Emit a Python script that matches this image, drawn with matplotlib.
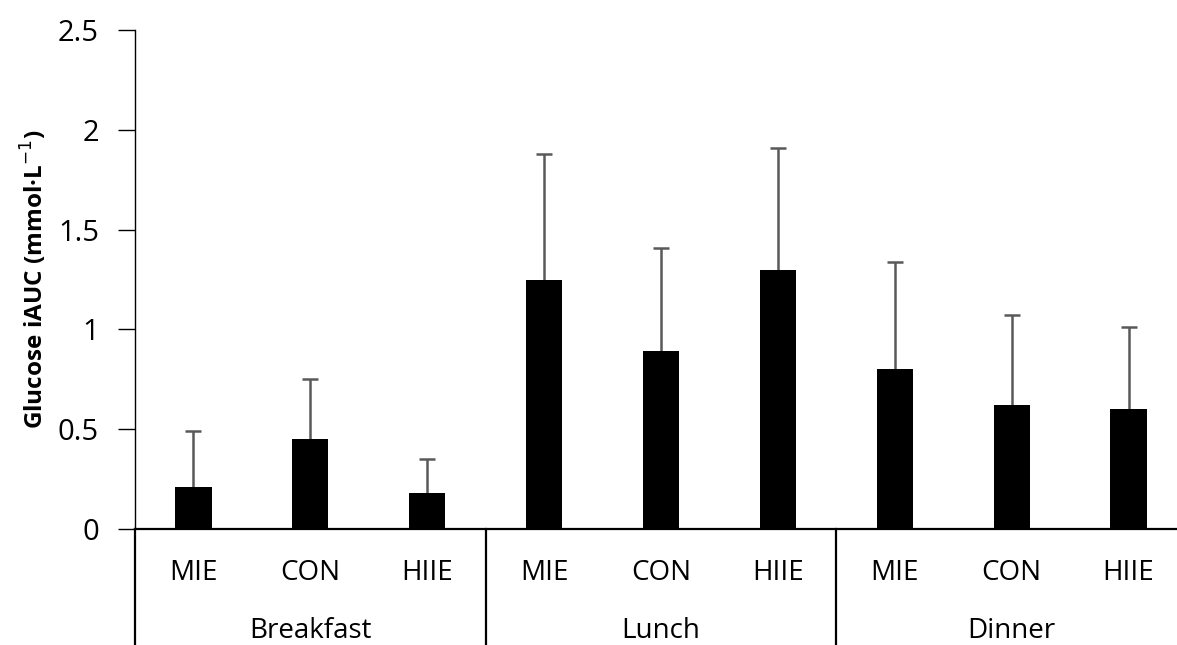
import numpy as np
import matplotlib.pyplot as plt

plt.rcParams['font.family'] = ['Open Sans', 'DejaVu Sans']

meals = ['Breakfast', 'Lunch', 'Dinner']
conditions = ['MIE', 'CON', 'HIIE']
# mean iAUC and SD for each meal x condition
means = np.array([[0.21, 0.45, 0.18],
                  [1.25, 0.89, 1.30],
                  [0.80, 0.62, 0.60]])
errs = np.array([[0.28, 0.30, 0.17],
                 [0.63, 0.52, 0.61],
                 [0.54, 0.45, 0.41]])

fig = plt.figure(figsize=(11.77, 6.45), dpi=100)
ax = fig.add_axes([135/1177, 116/645, 1052/1177, 499/645])

x = np.arange(9)
m = means.flatten()
e = errs.flatten()
ax.bar(x, m, width=0.31, color='black', zorder=3)
# upper-only error bars
ax.vlines(x, m, m + e, color='#595959', lw=1.8, zorder=2)
ax.plot(x, m + e, ls='none', marker='_', markersize=11, mew=1.8, color='#595959', zorder=2)

ax.set_xlim(-0.5, 8.5)
ax.set_ylim(0, 2.5)
ax.set_yticks([0, 0.5, 1, 1.5, 2, 2.5])
ax.set_yticklabels(['0', '0.5', '1', '1.5', '2', '2.5'])
ax.tick_params(axis='y', direction='out', length=12, width=1, labelsize=21, pad=14)
ax.set_xticks([])

for s in ['top', 'right']:
    ax.spines[s].set_visible(False)
ax.spines['left'].set_linewidth(1)
ax.spines['bottom'].set_linewidth(1.6)

ax.set_ylabel('Glucose iAUC (mmol·L$^{-1}$)', fontsize=17.5, fontweight='bold', labelpad=6)

trans = ax.get_xaxis_transform()
for sep in [-0.5, 2.5, 5.5]:
    ax.plot([sep, sep], [0, -0.24], transform=trans, color='black', lw=1.6, clip_on=False)

for i, meal in enumerate(meals):
    for j, cond in enumerate(conditions):
        ax.text(i * 3 + j, -0.088, cond, transform=trans, ha='center', va='center', fontsize=20)
    ax.text(i * 3 + 1, -0.205, meal, transform=trans, ha='center', va='center', fontsize=20)

fig.savefig('out.png', dpi=100)
